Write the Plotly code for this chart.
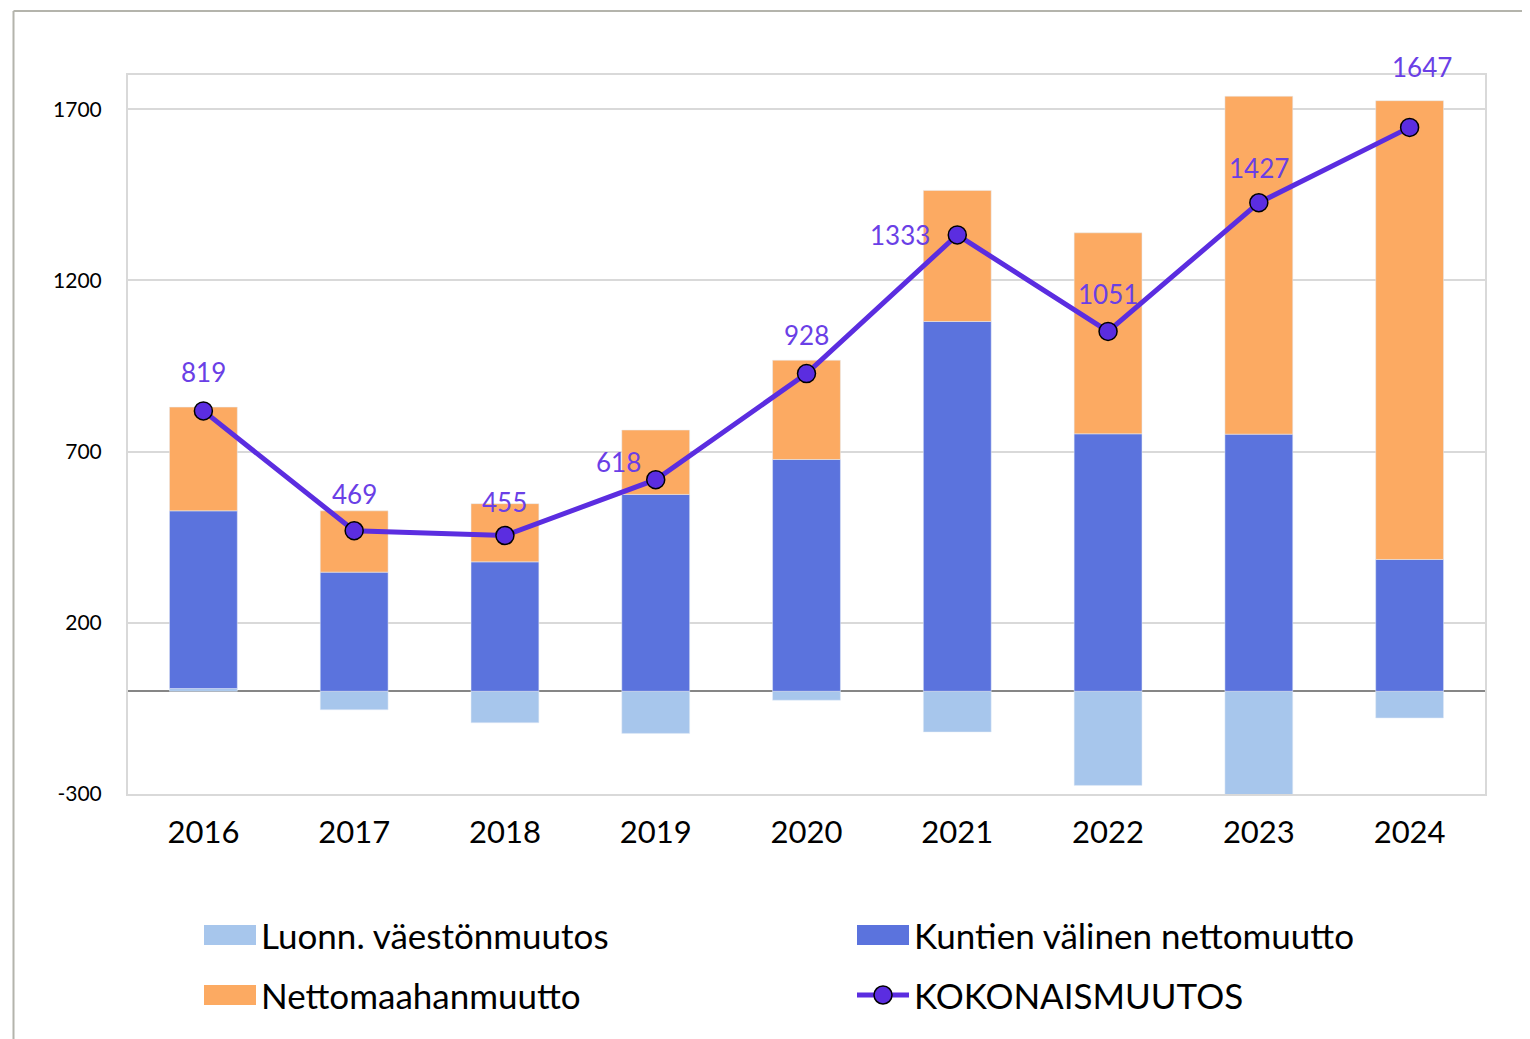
import plotly.graph_objects as go

# data
years = ["2016", "2017", "2018", "2019", "2020", "2021", "2022", "2023", "2024"]
luonn = [8, -54, -92, -123, -26, -119, -275, -303, -78]
kuntien = [519, 348, 378, 575, 677, 1080, 752, 751, 385]
maahan = [303, 179, 170, 188, 290, 383, 587, 987, 1340]
kokonais = [819, 469, 455, 618, 928, 1333, 1051, 1427, 1647]
y_ticks = [-300, 200, 700, 1200, 1700]

# label offsets (px) for the total-line labels
lbl_dx = [0, 0, 0, -37, 0, -57, 0, 0, 12]
lbl_dy = [39, 37, 34, 18, 39, 0, 37, 35, 60]

C_LUONN = "#A7C6EC"
C_KUNT = "#5B73DD"
C_MAAHAN = "#FCAA62"
C_LINE = "#5B2DE0"
C_LABEL = "#6A3FE6"
FONT = "Lato"

# page has an 8px body margin, so the figure sits 8px right/down
OFF = 8
W, H = 1530, 1039
ML, MR, MT, MB = 128 - OFF, 45 + OFF, 75 - OFF, 245 + OFF
PW, PH = W - ML - MR, H - MT - MB


def px(x):
    return (x - OFF - ML) / PW


def py(y):
    return (H - MB - (y - OFF)) / PH


fig = go.Figure()
fig.add_trace(go.Bar(x=years, y=luonn, name="Luonn. väestönmuutos", marker_color=C_LUONN))
fig.add_trace(go.Bar(x=years, y=kuntien, name="Kuntien välinen nettomuutto", marker_color=C_KUNT))
fig.add_trace(go.Bar(x=years, y=maahan, name="Nettomaahanmuutto", marker_color=C_MAAHAN))
fig.add_trace(go.Scatter(x=years, y=kokonais, name="KOKONAISMUUTOS", mode="lines+markers",
                         line=dict(color=C_LINE, width=5),
                         marker=dict(size=18, color=C_LINE, line=dict(color="black", width=1.5))))

annotations = []
for i, (v, dx, dy) in enumerate(zip(kokonais, lbl_dx, lbl_dy)):
    annotations.append(dict(xref="x", yref="y", x=i, y=v, text=str(v), showarrow=False,
                            xshift=dx, yshift=dy,
                            font=dict(family=FONT, size=26, color=C_LABEL)))

shapes = []
# outer frame (left and top edges)
shapes.append(dict(type="line", xref="paper", yref="paper", x0=px(13.5), x1=px(13.5),
                   y0=py(11), y1=py(H + 20), line=dict(color="#B4B4AC", width=2)))
shapes.append(dict(type="line", xref="paper", yref="paper", x0=px(13.5), x1=px(W + 20),
                   y0=py(11), y1=py(11), line=dict(color="#B4B4AC", width=2)))

# custom legend
legend_items = [
    ("Luonn. väestönmuutos", C_LUONN, 204, 935, "bar"),
    ("Kuntien välinen nettomuutto", C_KUNT, 857, 935, "bar"),
    ("Nettomaahanmuutto", C_MAAHAN, 204, 995, "bar"),
    ("KOKONAISMUUTOS", C_LINE, 857, 995, "line"),
]
for name, col, lx, ly, kind in legend_items:
    if kind == "bar":
        shapes.append(dict(type="rect", xref="paper", yref="paper", x0=px(lx), x1=px(lx + 52),
                           y0=py(ly + 10), y1=py(ly - 10), fillcolor=col, line=dict(width=0)))
    else:
        shapes.append(dict(type="line", xref="paper", yref="paper", x0=px(lx), x1=px(lx + 52),
                           y0=py(ly), y1=py(ly), line=dict(color=col, width=5)))
        shapes.append(dict(type="circle", xref="paper", yref="paper", xsizemode="pixel",
                           ysizemode="pixel", xanchor=px(lx + 26), yanchor=py(ly),
                           x0=-9, x1=9, y0=-9, y1=9, fillcolor=col,
                           line=dict(color="black", width=1.5)))
    annotations.append(dict(xref="paper", yref="paper", x=px(lx + 55), y=py(ly), text=name,
                            showarrow=False, xanchor="left", yanchor="middle",
                            font=dict(family=FONT, size=35, color="black")))

fig.update_layout(
    width=W, height=H,
    margin=dict(l=ML, r=MR, t=MT, b=MB),
    paper_bgcolor="white", plot_bgcolor="white",
    barmode="relative", bargap=0.55,
    showlegend=False,
    font=dict(family=FONT, color="black"),
    annotations=annotations,
    shapes=shapes,
    xaxis=dict(type="category", range=[-0.5, 8.5], showline=True, mirror=True,
               linecolor="#D9D9D9", linewidth=2,
               ticks="", tickfont=dict(size=31, color="black"), ticklabelstandoff=10),
    yaxis=dict(range=[-300, 1800], tickvals=y_ticks, ticktext=[str(t) for t in y_ticks],
               showline=True, mirror=True,
               linecolor="#D9D9D9", linewidth=2, gridcolor="#D9D9D9", gridwidth=2,
               zeroline=True, zerolinecolor="#868686", zerolinewidth=2,
               tickfont=dict(size=21, color="black"), ticklabelstandoff=20),
)

fig.write_html("out.html")
